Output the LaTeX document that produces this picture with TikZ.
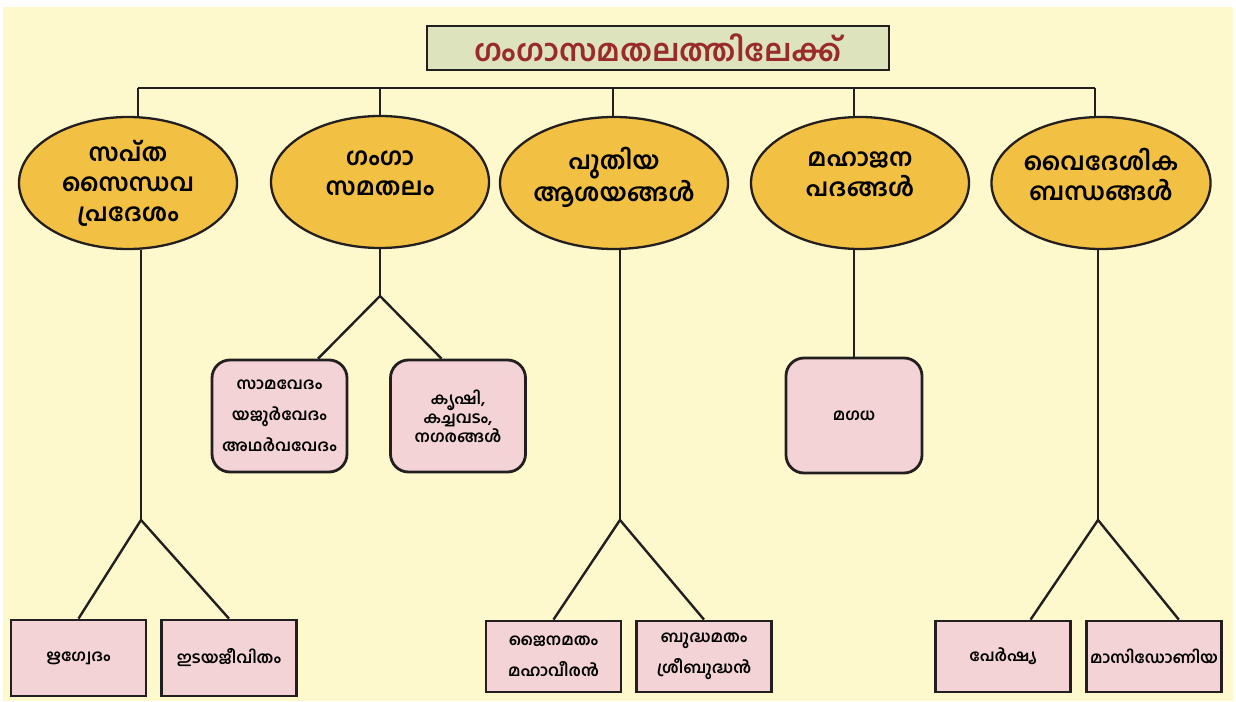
\documentclass[tikz,border=0pt]{standalone}
\usepackage{fontspec}
\newfontfamily\malfont[Script=Malayalam]{Hind Kochi}
\usepackage{xcolor}
\usetikzlibrary{shapes.geometric,calc}
\definecolor{bgyellow}{HTML}{FEF9CD}
\definecolor{topicgold}{HTML}{F2C043}
\definecolor{leafpink}{HTML}{F3D3D6}
\definecolor{headgreen}{HTML}{DDE3BD}
\definecolor{headred}{HTML}{9A2B2B}
\definecolor{inkline}{HTML}{231F20}
\tikzset{
  headbox/.style={draw=inkline, line width=2.8pt, fill=headgreen, minimum width=462, minimum height=44, inner sep=0pt, text=headred, font=\malfont\bfseries\fontsize{30.5}{36}\selectfont},
  topic/.style={ellipse, draw=inkline, line width=2.3pt, fill=topicgold, minimum width=218, minimum height=132, inner sep=0pt, align=center, font=\malfont\bfseries\fontsize{24.5}{30}\selectfont},
  lifted/.style={text depth=18pt},
  leaf/.style={draw=inkline, line width=2.8pt, fill=leafpink, rounded corners=18pt, minimum width=135, minimum height=112, inner sep=0pt, align=center, font=\malfont\bfseries\fontsize{16}{31}\selectfont},
  endleaf/.style={leaf, sharp corners, minimum height=71},
  link/.style={draw=inkline, line width=2.4pt, line join=round},
}
\begin{document}
\begin{tikzpicture}[x=1pt,y=1pt]
  % Background
  \fill[bgyellow] (3,-7) rectangle (1233,-701);
  \useasboundingbox (0,0) rectangle (1236,-701);

  % Title
  \node[headbox] (head) at (658,-48) {ഗംഗാസമതലത്തിലേക്ക്};

  % Topics
  \node[topic] (sapta)           at (128,-183) {സപ്ത\\സൈന്ധവ\\പ്രദേശം};
  \node[topic, lifted] (ganga)   at (380,-182) {ഗംഗാ\\സമതലം};
  \node[topic, lifted] (puthiya) at (614,-183) {പുതിയ\\ആശയങ്ങൾ};
  \node[topic, lifted] (maha)    at (860,-183) {മഹാജന\\പദങ്ങൾ};
  \node[topic, lifted] (videsha) at (1101,-183) {വൈദേശിക\\ബന്ധങ്ങൾ};

  % Leaves (middle row)
  \node[leaf] (sama)    at (279.5,-416) {സാമവേദം\\യജുർവേദം\\അഥർവവേദം};
  \node[leaf, font=\malfont\bfseries\fontsize{16}{19}\selectfont] (krishi) at (458,-416) {കൃഷി,\\കച്ചവടം,\\നഗരങ്ങൾ};
  \node[leaf, minimum width=136, minimum height=115] (magadha) at (854,-415.5) {മഗധ};

  % Leaves (bottom row)
  \node[endleaf, minimum height=76] (rig)   at (78.5,-658) {ഋഗ്വേദം};
  \node[endleaf, minimum height=76] (idaya) at (229,-658) {ഇടയജീവിതം};
  \node[endleaf] (jaina)  at (553.5,-656.5) {ജൈനമതം\\മഹാവീരൻ};
  \node[endleaf] (buddha) at (704,-656.5) {ബുദ്ധമതം\\ശ്രീബുദ്ധൻ};
  \node[endleaf] (persia) at (1003,-656.5) {പേർഷ്യ};
  \node[endleaf] (maced)  at (1154,-656.5) {മാസിഡോണിയ};

  % Bus under the title
  \coordinate (b1) at (138,-88);
  \coordinate (b2) at (380,-88);
  \coordinate (b3) at (613,-88);
  \coordinate (b4) at (854,-88);
  \coordinate (b5) at (1095,-88);
  \draw[link] (b1) -- (b5);
  \draw[link] (b1) -- (b1 |- sapta.north);
  \draw[link] (b2) -- (b2 |- ganga.north);
  \draw[link] (b3) -- (b3 |- puthiya.north);
  \draw[link] (b4) -- (b4 |- maha.north);
  \draw[link] (b5) -- (b5 |- videsha.north);

  % Forks
  \coordinate (f1) at (141,-520);
  \coordinate (f2) at (380,-296);
  \coordinate (f3) at (620,-520);
  \coordinate (f5) at (1098,-520);
  \draw[link] (f1 |- sapta.south) -- (f1);
  \draw[link] (f2 |- ganga.south) -- (f2);
  \draw[link] (f3 |- puthiya.south) -- (f3);
  \draw[link] (f5 |- videsha.south) -- (f5);
  \draw[link] (magadha.north |- maha.south) -- (magadha.north);

  \draw[link] (rig.north) -- (f1) -- (idaya.north);
  \draw[link] ($(sama.north west)!0.78!(sama.north east)$) -- (f2) -- ($(krishi.north west)!0.38!(krishi.north east)$);
  \draw[link] (jaina.north) -- (f3) -- (buddha.north);
  \draw[link] ($(persia.north west)!0.7!(persia.north east)$) -- (f5) -- ($(maced.north west)!0.68!(maced.north east)$);
\end{tikzpicture}
\end{document}
